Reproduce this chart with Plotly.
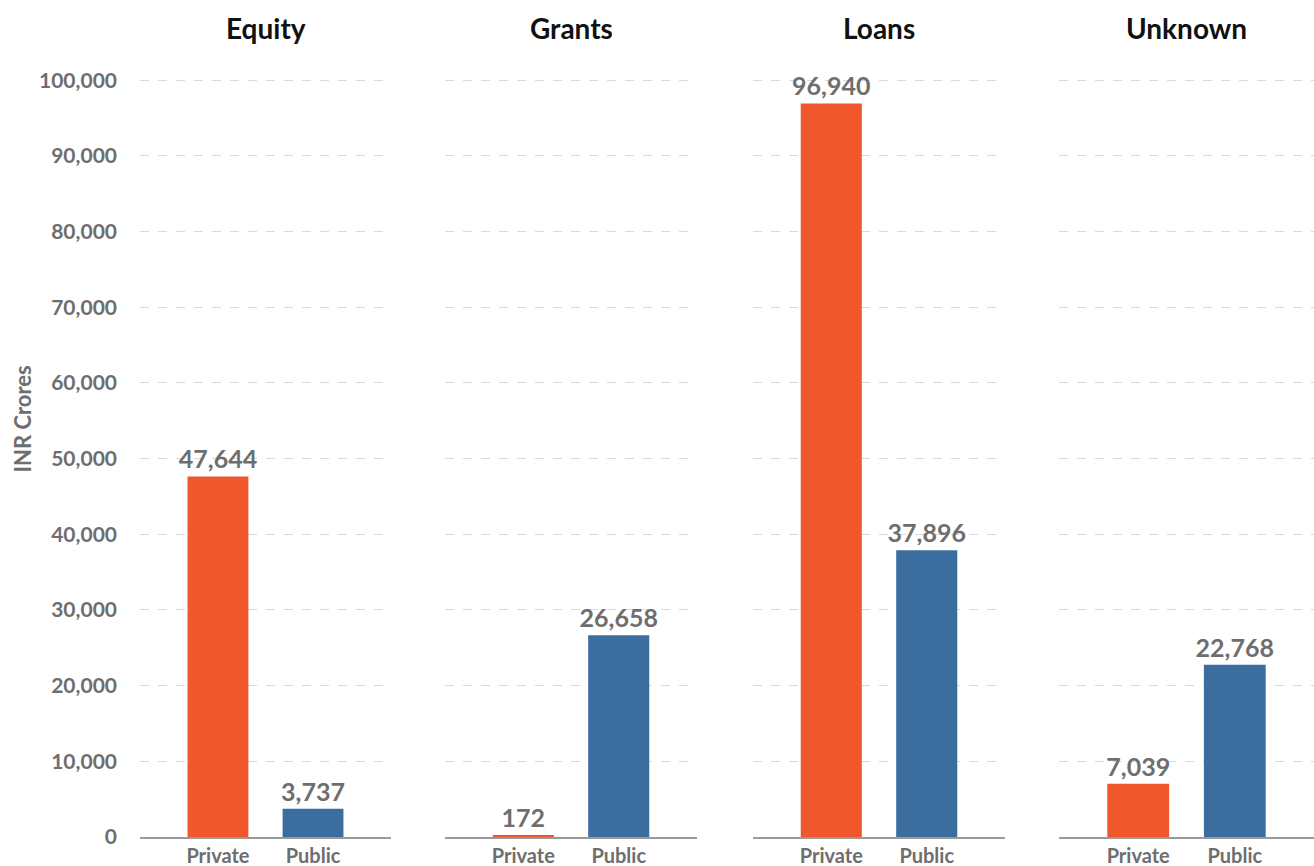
import plotly.graph_objects as go

categories = ["Equity", "Grants", "Loans", "Unknown"]
sectors = ["Private", "Public"]
private_values = [47644, 172, 96940, 7039]
public_values = [3737, 26658, 37896, 22768]
y_ticks = [0, 10000, 20000, 30000, 40000, 50000, 60000, 70000, 80000, 90000, 100000]

ORANGE = "#F0572D"
BLUE = "#3B6E9F"
GRAY_TXT = "#6E6E6E"
FONT = "Lato"

W, H = 1314, 866
ML, MR, MT, MB = 140, 0, 78, 29
plot_w = W - ML - MR
panels_px = [(0, 251), (305, 557), (613, 865), (919, 1174)]
domains = [[a / plot_w, b / plot_w] for a, b in panels_px]

fig = go.Figure()
annotations = []
for i, cat in enumerate(categories):
    ax = "" if i == 0 else str(i + 1)
    fig.add_trace(go.Bar(
        x=sectors,
        y=[private_values[i], public_values[i]],
        marker=dict(color=[ORANGE, BLUE], line=dict(width=0)),
        width=0.64,
        texttemplate="%{y:,.0f}",
        textposition="outside",
        constraintext="none",
        cliponaxis=False,
        textfont=dict(family=FONT, size=25, color=GRAY_TXT, weight="bold"),
        xaxis="x" + ax, yaxis="y" + ax,
        showlegend=False,
        hoverinfo="skip",
    ))
    fig.layout["xaxis" + ax] = dict(
        domain=domains[i], anchor="y" + ax,
        range=[-0.82, 1.82],
        showline=True, linecolor="#9A9A9A", linewidth=2,
        showgrid=False, ticks="",
        tickfont=dict(family=FONT, size=20, color=GRAY_TXT, weight="bold"),
        fixedrange=True,
    )
    fig.layout["yaxis" + ax] = dict(
        anchor="x" + ax,
        range=[0, 100300],
        tickvals=y_ticks,
        tickformat=",",
        showticklabels=(i == 0),
        ticklabelstandoff=22,
        showgrid=True, gridcolor="#D9D9D9", griddash="dash", gridwidth=1,
        zeroline=False, showline=False, ticks="",
        tickfont=dict(family=FONT, size=21, color=GRAY_TXT, weight="bold"),
        fixedrange=True,
    )
    annotations.append(dict(
        text=cat, xref="paper", yref="paper",
        x=(domains[i][0] + domains[i][1]) / 2, y=1.0,
        yshift=50, xanchor="center", yanchor="middle",
        showarrow=False,
        font=dict(family=FONT, size=28, color="#111111", weight="bold"),
    ))

annotations.append(dict(
    text="INR Crores", xref="paper", yref="paper",
    x=0, y=0.55, xshift=-117, xanchor="center", yanchor="middle",
    textangle=-90, showarrow=False,
    font=dict(family=FONT, size=22, color=GRAY_TXT, weight="bold"),
))

fig.update_layout(
    width=W, height=H,
    margin=dict(l=ML, r=MR, t=MT, b=MB),
    paper_bgcolor="white", plot_bgcolor="white",
    annotations=annotations,
    bargap=0.3,
)

fig.write_html(
    "out.html",
    config={"displayModeBar": False},
    post_script="document.body.style.margin='0';document.body.style.overflow='hidden';",
)
